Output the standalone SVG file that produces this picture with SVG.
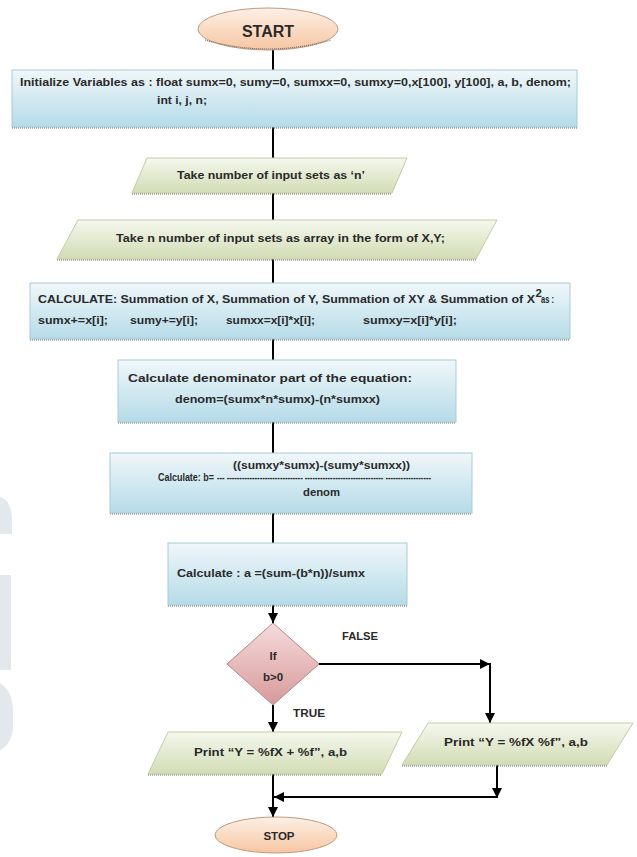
<svg xmlns="http://www.w3.org/2000/svg" width="637" height="857" viewBox="0 0 637 857">
<defs>
<linearGradient id="gBlue" x1="0" y1="0" x2="0" y2="1"><stop offset="0" stop-color="#f0f7fa"/><stop offset="1" stop-color="#b5dbe8"/></linearGradient>
<linearGradient id="gGreen" x1="0" y1="0" x2="0" y2="1"><stop offset="0" stop-color="#f5f8ee"/><stop offset="1" stop-color="#d2dcb4"/></linearGradient>
<linearGradient id="gPeach" x1="0" y1="0" x2="0" y2="1"><stop offset="0" stop-color="#fdf0e6"/><stop offset="1" stop-color="#f6c6a1"/></linearGradient>
<linearGradient id="gPink" x1="0" y1="0" x2="0" y2="1"><stop offset="0" stop-color="#f6dcdc"/><stop offset="1" stop-color="#d7999a"/></linearGradient>
<marker id="arr" markerUnits="userSpaceOnUse" markerWidth="10" markerHeight="10" viewBox="0 0 10 10" refX="10" refY="5" orient="auto"><path d="M0,0 L10,5 L0,10 Z" fill="#000"/></marker>
<style>
.box{fill:url(#gBlue);stroke:#a8cad6;stroke-width:1}
.io{fill:url(#gGreen);stroke:#c3cda6;stroke-width:1}
.term{fill:url(#gPeach);stroke:#c09a80;stroke-width:1}
.dec{fill:url(#gPink);stroke:#b98585;stroke-width:1}
.sh{stroke:#6d6d6d;stroke-width:1.2;stroke-dasharray:1 1;fill:none}
.t{font-family:"Liberation Sans",Arial,sans-serif;font-weight:bold;font-size:11.5px;fill:#2a2a2a}
.s{font-size:10px}
.big{font-size:16px}
.c{text-anchor:middle}
.ln{stroke:#000;stroke-width:2;fill:none}
.wm{fill:#e2e8ec}
</style>
</defs>
<rect width="637" height="857" fill="#fff"/>
<g id="watermark">
<path class="wm" d="M0,497 C8,499 12,509 12,520 L12,534 L0,534 Z"/>
<rect class="wm" x="0" y="575" width="11" height="95"/>
<path class="wm" d="M0,683 C9,688 13,700 13,712 L13,725 C13,738 8,746 0,750 Z"/>
</g>
<g id="connectors">
<path class="ln" d="M273,50 V70"/>
<path class="ln" d="M273,127 V158"/>
<path class="ln" d="M273,193 V220"/>
<path class="ln" d="M273,259 V283"/>
<path class="ln" d="M273,339 V360"/>
<path class="ln" d="M273,422 V453"/>
<path class="ln" d="M273,513 V543"/>
<path class="ln" d="M273,605 V623" marker-end="url(#arr)"/>
<path class="ln" d="M273,705 V732" marker-end="url(#arr)"/>
<path class="ln" d="M273,774 V817" marker-end="url(#arr)"/>
<path class="ln" d="M319,664 H490" marker-end="url(#arr)"/>
<path class="ln" d="M490,663 V723" marker-end="url(#arr)"/>
<path class="ln" d="M497,765 V798" marker-end="url(#arr)"/>
<path class="ln" d="M497,797 H274" stroke-width="3" marker-end="url(#arr)"/>
</g>
<g id="start">
<ellipse class="term" cx="268" cy="29" rx="70" ry="21"/>
<path class="sh" d="M205,40 Q268,58 331,40"/>
<text class="t big c" x="268" y="37">START</text>
</g>
<g id="init">
<rect class="box" x="12" y="70" width="565" height="57"/>
<path class="sh" d="M12,128 H577"/>
<text class="t" x="20" y="86" textLength="551" lengthAdjust="spacingAndGlyphs">Initialize Variables as : float sumx=0, sumy=0, sumxx=0, sumxy=0,x[100], y[100], a, b, denom;</text>
<text class="t" x="157" y="104" textLength="50" lengthAdjust="spacingAndGlyphs">int i, j, n;</text>
</g>
<g id="input-n">
<polygon class="io" points="147,158 407,158 392,193 132,193"/>
<path class="sh" d="M132,194 H392"/>
<text class="t" x="177" y="179" textLength="188" lengthAdjust="spacingAndGlyphs">Take number of input sets as ‘n’</text>
</g>
<g id="input-xy">
<polygon class="io" points="78,220 497,220 476,259 57,259"/>
<path class="sh" d="M57,260 H476"/>
<text class="t" x="116" y="242" textLength="329" lengthAdjust="spacingAndGlyphs">Take n number of input sets as array in the form of X,Y;</text>
</g>
<g id="calculate">
<rect class="box" x="30" y="283" width="540" height="56"/>
<path class="sh" d="M30,340 H570"/>
<text class="t" x="38" y="303" textLength="497" lengthAdjust="spacingAndGlyphs">CALCULATE:  Summation of X, Summation of Y, Summation of XY &amp; Summation of X</text>
<text class="t" x="535.5" y="297" font-size="6">2</text>
<text class="t" x="541" y="303" textLength="13" lengthAdjust="spacingAndGlyphs">as :</text>
<text class="t" x="38" y="324" textLength="70" lengthAdjust="spacingAndGlyphs">sumx+=x[i];</text>
<text class="t" x="130" y="324" textLength="68" lengthAdjust="spacingAndGlyphs">sumy+=y[i];</text>
<text class="t" x="226" y="324" textLength="89" lengthAdjust="spacingAndGlyphs">sumxx=x[i]*x[i];</text>
<text class="t" x="363" y="324" textLength="94" lengthAdjust="spacingAndGlyphs">sumxy=x[i]*y[i];</text>
</g>
<g id="denominator">
<rect class="box" x="118" y="360" width="338" height="62"/>
<path class="sh" d="M118,423 H456"/>
<text class="t" x="128" y="382" textLength="284" lengthAdjust="spacingAndGlyphs">Calculate denominator part of the equation:</text>
<text class="t" x="175" y="403" textLength="205" lengthAdjust="spacingAndGlyphs">denom=(sumx*n*sumx)-(n*sumxx)</text>
</g>
<g id="calc-b">
<rect class="box" x="110" y="453" width="362" height="60"/>
<path class="sh" d="M110,514 H472"/>
<text class="t s" x="233" y="469" textLength="177" lengthAdjust="spacingAndGlyphs">((sumxy*sumx)-(sumy*sumxx))</text>
<text class="t s" x="158" y="481" textLength="56" lengthAdjust="spacingAndGlyphs">Calculate: b=</text>
<text class="t s" x="217" y="481" textLength="214" lengthAdjust="spacingAndGlyphs">--- ------------------------------ ------------------------------- ------------------</text>
<text class="t s" x="303" y="496" textLength="37" lengthAdjust="spacingAndGlyphs">denom</text>
</g>
<g id="calc-a">
<rect class="box" x="168" y="543" width="239" height="62"/>
<path class="sh" d="M168,606 H407"/>
<text class="t" x="177" y="577" textLength="188" lengthAdjust="spacingAndGlyphs">Calculate : a =(sum-(b*n))/sumx</text>
</g>
<g id="decision">
<polygon class="dec" points="273,623 319,664 273,705 227,664"/>
<text class="t c" x="273" y="660">If</text>
<text class="t c" x="273" y="681">b&gt;0</text>
<text class="t" x="342" y="640" textLength="36" lengthAdjust="spacingAndGlyphs">FALSE</text>
<text class="t" x="293" y="717" textLength="32" lengthAdjust="spacingAndGlyphs">TRUE</text>
</g>
<g id="print-true">
<polygon class="io" points="168,732 402,732 382,774 148,774"/>
<path class="sh" d="M148,775 H382"/>
<text class="t" x="194" y="756" textLength="153" lengthAdjust="spacingAndGlyphs">Print “Y = %fX + %f”, a,b</text>
</g>
<g id="print-false">
<polygon class="io" points="428,723 633,723 607,765 402,765"/>
<path class="sh" d="M402,766 H607"/>
<text class="t" x="444" y="746" textLength="144" lengthAdjust="spacingAndGlyphs">Print “Y = %fX  %f”, a,b</text>
</g>
<g id="stop">
<ellipse class="term" cx="276" cy="835" rx="61" ry="18"/>
<text class="t c" x="279" y="840" font-size="12">STOP</text>
</g>
</svg>
